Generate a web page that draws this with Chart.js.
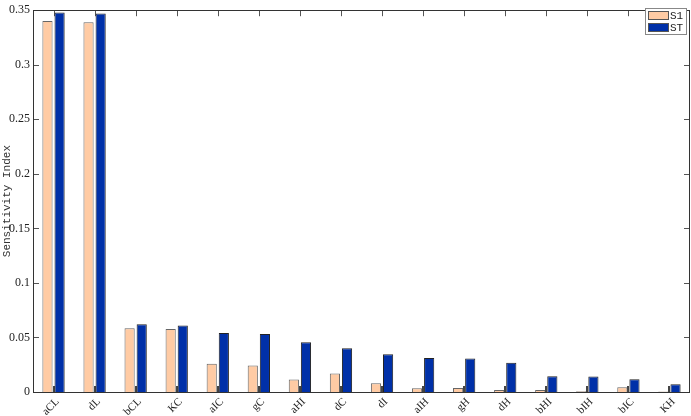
<!DOCTYPE html>
<html>
<head>
<meta charset="UTF-8">
<script src="https://cdn.jsdelivr.net/npm/chart.js"></script>
<style>
  html, body { margin: 0; padding: 0; background: #fff; }
  #wrap { width: 691px; height: 416px; }
</style>
</head>
<body>
<div id="wrap"><canvas id="grafico"></canvas></div>
<script>
const categorias = ['aCL', 'dL', 'bCL', 'KC', 'aIC', 'gC', 'aHI', 'dC', 'dI', 'aIH', 'gH', 'dH', 'bHI', 'bIH', 'bIC', 'KH'];
const s1 = [0.340, 0.339, 0.0585, 0.0578, 0.0260, 0.0242, 0.0115, 0.0170, 0.0080, 0.0034, 0.0036, 0.0019, 0.0019, 0.0006, 0.0043, 0.0005];
const st = [0.348, 0.347, 0.0621, 0.0610, 0.0540, 0.0532, 0.0455, 0.0402, 0.0345, 0.0311, 0.0308, 0.0268, 0.0145, 0.0142, 0.0118, 0.0070];
const yTicks = [0, 0.05, 0.1, 0.15, 0.2, 0.25, 0.3, 0.35];

const colorS1 = '#FFCBA4';
const colorST = '#0030A8';
const serif = '"Liberation Serif", "Times New Roman", serif';
const mono = '"Liberation Mono", "Courier New", monospace';

// marco, marcas hacia adentro y etiquetas giradas (estilo MATLAB)
const marco = {
    id: 'marco',
    beforeDatasetsDraw(chart) {
        const { ctx, chartArea: a, scales } = chart;
        ctx.save();
        ctx.strokeStyle = '#555';
        ctx.lineWidth = 1;
        ctx.beginPath();
        categorias.forEach((c, i) => {
            const x = Math.round(scales.x.getPixelForValue(i)) + 0.5;
            ctx.moveTo(x, a.top); ctx.lineTo(x, a.top + 6);
        });
        yTicks.forEach(v => {
            const y = Math.round(scales.y.getPixelForValue(v)) + 0.5;
            ctx.moveTo(a.left, y); ctx.lineTo(a.left + 6, y);
            ctx.moveTo(a.right, y); ctx.lineTo(a.right - 6, y);
        });
        ctx.stroke();
        // marcas de abajo, algo mas gruesas
        ctx.strokeStyle = '#444';
        ctx.lineWidth = 2;
        ctx.beginPath();
        categorias.forEach((c, i) => {
            const x = Math.round(scales.x.getPixelForValue(i));
            ctx.moveTo(x, a.bottom); ctx.lineTo(x, a.bottom - 6);
        });
        ctx.stroke();
        ctx.restore();
    },
    afterDraw(chart) {
        const { ctx, chartArea: a, scales } = chart;
        ctx.save();
        ctx.strokeStyle = '#333';
        ctx.lineWidth = 1;
        ctx.strokeRect(Math.round(a.left) + 0.5, Math.round(a.top) + 0.5,
            Math.round(a.right - a.left) - 1, Math.round(a.bottom - a.top));

        // etiquetas del eje x a 45 grados
        ctx.font = '11px ' + serif;
        ctx.fillStyle = '#222';
        ctx.textAlign = 'right';
        ctx.textBaseline = 'middle';
        categorias.forEach((c, i) => {
            const x = scales.x.getPixelForValue(i);
            ctx.save();
            ctx.translate(x + 4, a.bottom + 8);
            ctx.rotate(-Math.PI / 4);
            ctx.fillText(c, 0, 0);
            ctx.restore();
        });

        // leyenda
        const lx = 645, ly = 8, lw = 41, lh = 26;
        ctx.textAlign = 'left';
        ctx.fillStyle = '#fff';
        ctx.fillRect(lx, ly, lw, lh);
        ctx.strokeStyle = '#888';
        ctx.strokeRect(lx + 0.5, ly + 0.5, lw, lh);
        ctx.font = '11px ' + mono;
        chart.data.datasets.forEach((ds, i) => {
            const sy = ly + 3 + i * 12;
            ctx.fillStyle = ds.backgroundColor;
            ctx.fillRect(lx + 3, sy, 21, 9);
            ctx.strokeStyle = '#555';
            ctx.strokeRect(lx + 3.5, sy + 0.5, 20, 8);
            ctx.fillStyle = '#222';
            ctx.fillText(ds.label, lx + 25, sy + 5);
        });
        ctx.restore();
    }
};

new Chart(document.getElementById('grafico'), {
    type: 'bar',
    data: {
        labels: categorias,
        datasets: [
            { label: 'S1', data: s1, backgroundColor: colorS1, borderColor: '#666', borderWidth: 1,
              categoryPercentage: 0.59, barPercentage: 0.84 },
            { label: 'ST', data: st, backgroundColor: colorST, borderColor: '#222', borderWidth: 1,
              categoryPercentage: 0.59, barPercentage: 0.84 }
        ]
    },
    options: {
        responsive: true,
        maintainAspectRatio: false,
        animation: false,
        layout: { padding: { top: 4, right: 1, left: 0, bottom: 0 } },
        plugins: { legend: { display: false }, tooltip: { enabled: false } },
        scales: {
            x: {
                grid: { display: false, drawTicks: false },
                border: { display: false },
                afterFit(scale) { scale.height = 24; },
                ticks: { display: false }
            },
            y: {
                min: 0, max: 0.35,
                grid: { display: false, drawTicks: false },
                border: { display: false },
                afterFit(scale) { scale.width = 33; },
                afterBuildTicks(scale) { scale.ticks = yTicks.map(v => ({ value: v })); },
                title: {
                    display: true,
                    text: 'Sensitivity Index',
                    color: '#333',
                    padding: 0,
                    font: { family: mono, size: 11 }
                },
                ticks: {
                    color: '#222',
                    padding: 3,
                    font: { family: serif, size: 12 },
                    callback: v => String(+v.toFixed(2))
                }
            }
        }
    },
    plugins: [marco]
});
</script>
</body>
</html>
